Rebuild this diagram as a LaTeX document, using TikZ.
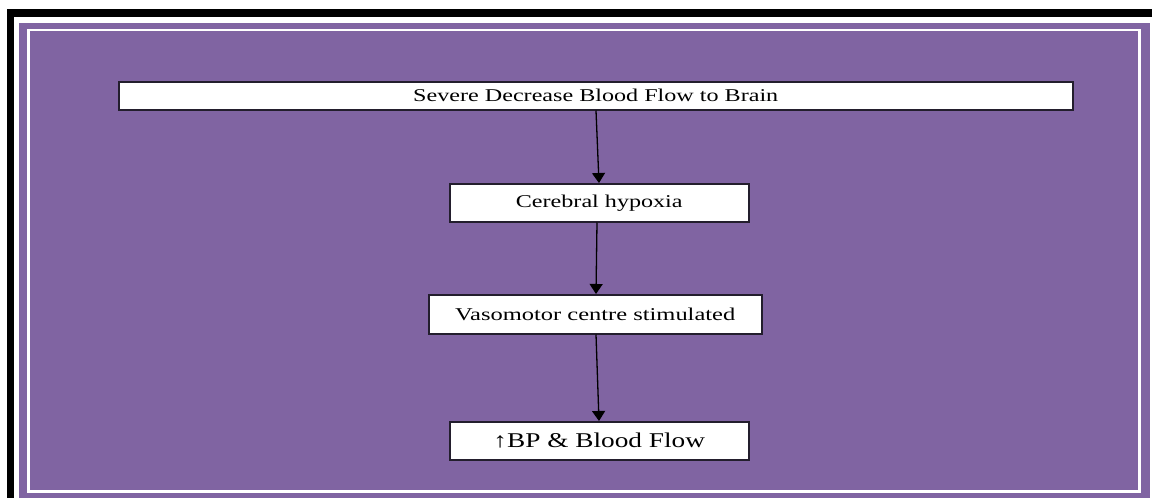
\documentclass[tikz,border=0pt]{standalone}
\usepackage{graphicx}
\usepackage{fontspec}
\setmainfont{Liberation Serif}
\usetikzlibrary{arrows.meta}
\definecolor{bgpurple}{RGB}{128,100,162}
\definecolor{boxline}{RGB}{35,30,45}
\newcommand{\widetext}[2]{\scalebox{#1}[1]{#2}}
\begin{document}
\begin{tikzpicture}[x=1pt,y=-1pt,
  flowbox/.style={draw=boxline,line width=1.5pt,fill=white,inner sep=0pt,anchor=north west},
  flowtext/.style={font=\fontsize{18}{21}\selectfont,inner sep=0pt},
  bigtext/.style={font=\fontsize{21}{24}\selectfont,inner sep=0pt},
  flowarrow/.style={draw=black,line width=1.3pt,-{Triangle[width=13pt,length=10pt]}}]
\useasboundingbox (0,0) rectangle (1152,498);
\fill[white] (0,0) rectangle (1152,498);
% black outer frame (left and top visible)
\fill[black] (7,9) rectangle (1152,17);
\fill[black] (7,9) rectangle (13.5,498);
% purple panel
\fill[bgpurple] (19,23) rectangle (1150,498);
% inner white line
\draw[white,line width=2.5pt] (28.5,30) rectangle (1139.5,491.5);
% boxes
\node[flowbox,minimum width=954pt,minimum height=28pt] (b1) at (118,81) {};
\node[flowtext] (t1) at (b1.center) {\widetext{1.34}{Severe Decrease Blood Flow to Brain}};
\node[flowbox,minimum width=299pt,minimum height=38pt] (b2) at (449,183) {};
\node[flowtext] (t2) at (b2.center) {\widetext{1.34}{Cerebral hypoxia}};
\node[flowbox,minimum width=333pt,minimum height=39pt] (b3) at (428,294) {};
\node[flowtext] (t3) at (b3.center) {\widetext{1.36}{Vasomotor centre stimulated}};
\node[flowbox,minimum width=299pt,minimum height=38pt] (b4) at (449,421) {};
\node[bigtext] (t4) at (b4.center) {\widetext{1.3}{↑BP \& Blood Flow}};
% arrows
\coordinate (a1s) at (596,109);
\coordinate (a1e) at (599,183);
\coordinate (a2s) at (597,221);
\coordinate (a2e) at (596,294);
\coordinate (a3s) at (596,333);
\coordinate (a3e) at (599,421);
\draw[flowarrow] (b1.south -| a1s) -- (b2.north -| a1e);
\draw[flowarrow] (b2.south -| a2s) -- (b3.north -| a2e);
\draw[flowarrow] (b3.south -| a3s) -- (b4.north -| a3e);
\end{tikzpicture}
\end{document}
